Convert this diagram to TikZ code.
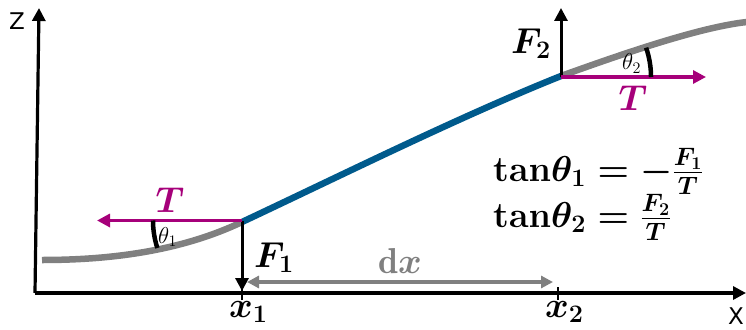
\RequirePackage{fix-cm}
\documentclass[tikz,border=0pt]{standalone}
\usepackage{amsmath}
\usepackage{fontspec}
\newfontfamily\axisfont{DejaVu Sans}
\usetikzlibrary{arrows.meta,calc}
\definecolor{tmag}{RGB}{166,0,122}
\definecolor{sblue}{RGB}{0,90,140}
\definecolor{sgray}{RGB}{128,128,128}
\tikzset{
  myaxis/.style={line width=3.2pt,-{Triangle[width=13pt,length=13pt]}},
  mycurve/.style={line width=6.5pt,sgray},
  myseg/.style={line width=6.5pt,sblue},
  myforce/.style={line width=3pt,-{Triangle[width=13pt,length=13pt]}},
  mytens/.style={line width=3.2pt,tmag,-{Triangle[width=13pt,length=13pt]}},
  myspan/.style={line width=3.2pt,sgray,{Triangle[width=12pt,length=12pt]}-{Triangle[width=12pt,length=12pt]}},
  myarc/.style={line width=4.5pt},
  mytick/.style={line width=2.8pt},
  biglab/.style={font=\fontsize{36}{43}\selectfont\boldmath,inner sep=0pt},
  smalllab/.style={font=\fontsize{23}{27}\selectfont,inner sep=0pt},
  axlab/.style={font=\fontsize{23}{28}\selectfont\axisfont,inner sep=0pt}
}
\begin{document}
\begin{tikzpicture}[x=1pt,y=-1pt]
\useasboundingbox (0,0) rectangle (746,329);
% axes
\coordinate (O) at (35,293);
\coordinate (Ztip) at (39,8);
\coordinate (Xtip) at (746,293);
\draw[myaxis] (O) -- (Ztip);
\draw[myaxis] (O) -- (Xtip);
\node[axlab] (zl) at (17,21) {Z};
\node[axlab] (xl) at (736,316) {X};
% points
\coordinate (S0) at (42,260);
\coordinate (P1) at (242,222);
\coordinate (P2) at (561,76);
\coordinate (S3) at (747,22);
% string
\draw[mycurve] (S0) .. controls (113,260) and (182,250.5) .. (P1);
\draw[mycurve] (P2) .. controls (621,54.4) and (700,27) .. (S3);
\draw[myseg] (P1) .. controls (342,175) and (461,116) .. (P2);
% axis points
\coordinate (X1) at (242,293);
\coordinate (X2) at (558,293);
% ticks
\draw[mytick] ($(X1)+(0,-6)$) -- ($(X1)+(0,7)$);
\draw[mytick] ($(X2)+(0,-6)$) -- ($(X2)+(0,7)$);
% forces
\coordinate (F1tip) at (242,291);
\coordinate (F2tip) at (561,8);
\coordinate (Q1) at (242,220.5);
\coordinate (Q2) at (561,77);
\draw[myforce] (Q1) -- (F1tip);
\draw[myforce] (Q2) -- (F2tip);
\coordinate (T1tip) at (97,220.5);
\coordinate (T2tip) at (706,77);
\draw[mytens] (Q1) -- (T1tip);
\draw[mytens] (Q2) -- (T2tip);
% angles
\draw[myarc] ($(Q1)+(-89,0)$) arc[start angle=180,end angle=162,radius=89];
\draw[myarc] ($(Q2)+(90,0)$) arc[start angle=0,end angle=-19,radius=90];
% dx
\coordinate (D1) at (247,282);
\coordinate (D2) at (553,282);
\draw[myspan] (D1) -- (D2);
% labels
\node[biglab,tmag,anchor=base] (T1) at (170,212) {$T$};
\node[biglab,tmag,anchor=base] (T2) at (633,110) {$T$};
\node[biglab,anchor=base west] (F1) at (254,267) {$F_1$};
\node[biglab,anchor=base west] (F2) at (511,53) {$F_2$};
\node[smalllab,anchor=base west] (th1) at (158,243) {$\theta_1$};
\node[smalllab,anchor=base west] (th2) at (622,70) {$\theta_2$};
\node[biglab,sgray,anchor=base] (dx) at (400,273) {$\mathrm{d}x$};
\node[biglab,anchor=base west] (x1) at (229,317) {$x_1$};
\node[biglab,anchor=base west] (x2) at (545,317) {$x_2$};
\node[biglab,anchor=base west] (eq1) at (493,181) {$\mathbf{tan}\theta_1=-\frac{F_1}{T}$};
\node[biglab,anchor=base west] (eq2) at (493,227) {$\mathbf{tan}\theta_2=\frac{F_2}{T}$};
\end{tikzpicture}
\end{document}
